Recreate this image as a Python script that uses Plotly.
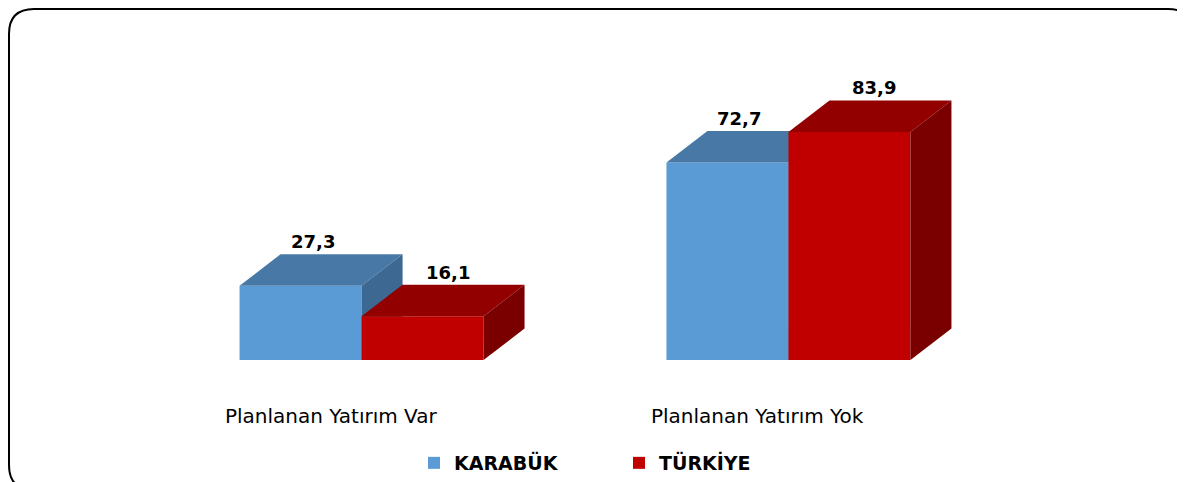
import plotly.graph_objects as go

categories = ["Planlanan Yatırım Var", "Planlanan Yatırım Yok"]
series_names = ["KARABÜK", "TÜRKİYE"]
karabuk = [27.3, 72.7]
turkiye = [16.1, 83.9]

W, H = 1185, 482
ML, MR, MT, MB = 12, 63, 53, 130
XR = [-0.8, 1.8]
YR = [0, 110]
PW = W - ML - MR
PH = H - MT - MB
px_per_x = PW / (XR[1] - XR[0])
px_per_y = PH / (YR[1] - YR[0])

bar_w = 122 / px_per_x
dx = 41 / px_per_x
dy = 31.5 / px_per_y

FONT = "DejaVu Sans"

styles = [
    dict(front="#5B9BD5", top="#4878A5", side="#3D6891", offset=-bar_w, xshift=12, axes=("x", "y")),
    dict(front="#C00000", top="#930000", side="#7A0000", offset=0.0, xshift=25, axes=("x2", "y2")),
]
values = [karabuk, turkiye]

fig = go.Figure()
idx = list(range(len(categories)))
for name, vals, st in zip(series_names, values, styles):
    xa, ya = st["axes"]
    fig.add_trace(go.Bar(
        x=idx, y=vals, name=name, width=bar_w, offset=st["offset"],
        marker=dict(color=st["front"], line=dict(width=0)),
        xaxis=xa, yaxis=ya, showlegend=True,
    ))
    for i, v in zip(idx, vals):
        x0 = i + st["offset"]
        x1 = x0 + bar_w
        # top face
        fig.add_trace(go.Scatter(
            x=[x0, x1, x1 + dx, x0 + dx, x0], y=[v, v, v + dy, v + dy, v],
            fill="toself", fillcolor=st["top"], mode="lines", line=dict(width=0, color=st["top"]),
            xaxis=xa, yaxis=ya, showlegend=False, hoverinfo="skip",
        ))
        # side face
        fig.add_trace(go.Scatter(
            x=[x1, x1, x1 + dx, x1 + dx, x1], y=[0, v, v + dy, dy, 0],
            fill="toself", fillcolor=st["side"], mode="lines", line=dict(width=0, color=st["side"]),
            xaxis=xa, yaxis=ya, showlegend=False, hoverinfo="skip",
        ))
        fig.add_annotation(
            x=x0 + bar_w / 2, y=v + dy, xref="x", yref="y",
            text="<b>" + f"{v:.1f}".replace(".", ",") + "</b>",
            showarrow=False, yanchor="bottom", yshift=0, xshift=st["xshift"],
            font=dict(family=FONT, size=18, color="#000000"),
        )

for i, c in zip(idx, categories):
    fig.add_annotation(
        x=i, y=0, xref="x", yref="paper", text=c, showarrow=False,
        yanchor="middle", yshift=-56, xshift=-31,
        font=dict(family=FONT, size=20, color="#000000"),
    )

# rounded frame (figure pixels -> paper)
def px(xp):
    return (xp - ML) / PW

def py(yp):
    return (H - MB - yp) / PH

L, T, R, B, r = 1, 1, 1185, 482, 25
path = (
    f"M {px(L)},{py(T + r)} Q {px(L)},{py(T)} {px(L + r)},{py(T)} "
    f"L {px(R - r)},{py(T)} Q {px(R)},{py(T)} {px(R)},{py(T + r)} "
    f"L {px(R)},{py(B - r)} Q {px(R)},{py(B)} {px(R - r)},{py(B)} "
    f"L {px(L + r)},{py(B)} Q {px(L)},{py(B)} {px(L)},{py(B - r)} Z"
)
fig.add_shape(type="path", path=path, xref="paper", yref="paper",
              line=dict(color="#000000", width=2), fillcolor="rgba(0,0,0,0)")

axis_common = dict(showgrid=False, zeroline=False, showticklabels=False, showline=False, ticks="")
fig.update_layout(
    width=W, height=H,
    margin=dict(l=ML, r=MR, t=MT, b=MB, autoexpand=False),
    paper_bgcolor="#FFFFFF", plot_bgcolor="#FFFFFF",
    xaxis=dict(range=XR, **axis_common),
    yaxis=dict(range=YR, **axis_common),
    xaxis2=dict(range=XR, overlaying="x", visible=False),
    yaxis2=dict(range=YR, overlaying="y", visible=False),
    barmode="overlay",
    showlegend=True,
    legend=dict(
        orientation="h", xref="container", yref="container",
        x=406 / W, y=1 - 455 / H, xanchor="left", yanchor="middle",
        font=dict(family=FONT, size=19, color="#000000", weight="bold"),
        entrywidth=160, itemwidth=30, bgcolor="rgba(0,0,0,0)",
    ),
    font=dict(family=FONT),
)

fig.write_html("out.html")
